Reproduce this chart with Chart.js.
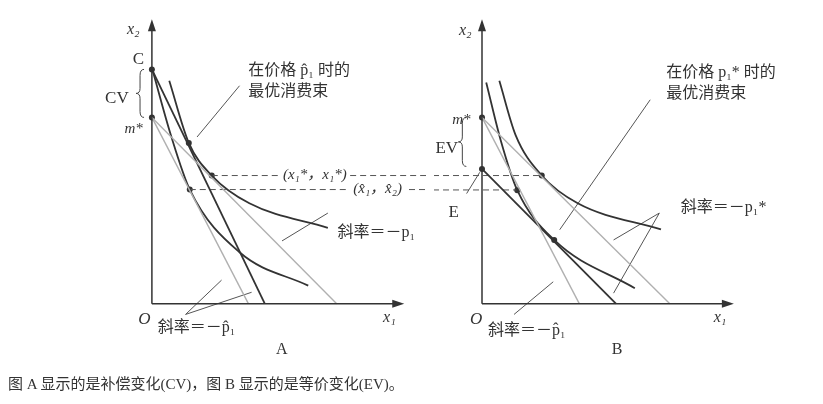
<!DOCTYPE html>
<html>
<head>
<meta charset="utf-8">
<script src="https://cdn.jsdelivr.net/npm/chart.js@4"></script>
<style>
  body { margin: 0; background: #fff; width: 823px; height: 404px; position: relative; overflow: hidden; }
  canvas { position: absolute; top: 0; }
  #caption { position: absolute; left: 8px; top: 372px; font: 15px 'Liberation Serif', 'Noto Sans CJK SC'; color: #333; }
</style>
</head>
<body>
<canvas id="chartA" width="430" height="404" style="left:0"></canvas>
<canvas id="chartB" width="393" height="404" style="left:430px"></canvas>
<div id="caption">图 A 显示的是补偿变化(CV)，图 B 显示的是等价变化(EV)。</div>
<script>
// ---------------- Panel A data (units: x1, x2) ----------------
const aBudgetComp = [[0, 23.9], [11.5, 0]];        // through C, slope -p̂1
const aBudgetNew = [[0, 19.0], [9.83, 0]];         // through m*, slope -p̂1
const aBudgetOld = [[0, 19.0], [18.83, 0]];        // through m*, slope -p1
const aCurveHigh = [[1.77, 22.74], [3.76, 16.4], [6.1, 13.07], [9.93, 10.24], [17.93, 7.74]];
const aCurveLow = [[0.1, 23.7], [1.93, 17.2], [3.86, 11.64], [8.93, 5.24], [15.93, 1.84]];
const aDots = [[0, 23.9], [0, 19.0], [3.76, 16.4], [6.1, 13.07], [3.86, 11.64]];
const aPointers = [
  [[4.6, 17.0], [8.93, 22.23]],
  [[13.26, 6.4], [17.93, 9.24]],
  [[3.43, -1.1], [7.1, 2.4]],
  [[3.43, -1.1], [10.16, 1.16]]
];
const aDashes = [
  [[6.1, 13.07], [13.1, 13.07]], [[20.2, 13.07], [28, 13.07]],
  [[3.86, 11.64], [19.9, 11.64]], [[26.2, 11.64], [28, 11.64]]
];

// ---------------- Panel B data ----------------
const bBudgetNew = [[0, 19.0], [9.93, 0]];         // slope -p̂1
const bBudgetOld = [[0, 19.0], [19.17, 0]];        // slope -p1*
const bBudgetEquiv = [[0, 13.74], [13.67, 0]];     // through E
const bCurveHigh = [[1.77, 22.74], [3.43, 17.2], [6.1, 13.07], [9.77, 10.24], [18.27, 7.57]];
const bCurveLow = [[0.43, 22.57], [1.93, 16.6], [3.6, 11.57], [7.37, 6.5], [15.6, 1.57]];
const bDots = [[0, 19.0], [0, 13.74], [6.1, 13.07], [3.6, 11.57], [7.37, 6.5]];
const bPointers = [
  [[7.93, 7.54], [17.17, 20.8]],
  [[13.43, 6.5], [18.1, 9.24]],
  [[13.43, 1.07], [18.1, 9.24]],
  [[3.27, -1.1], [7.27, 2.23]],
  [[-1.57, 11.23], [-0.23, 13.4]]
];
const bDashes = [
  [[-5, 13.07], [6.1, 13.07]],
  [[-5, 11.6], [3.6, 11.6]]
];

const axisEnd = [25.1, 28.4];

// labels: [text, x, y, align, font]
const SERIF = "'Liberation Serif', 'Noto Sans CJK SC'";
const aLabels = [
  ["C", -1.37, 24.9, "center", "17px " + SERIF],
  ["CV", -3.57, 20.9, "center", "17px " + SERIF],
  ["m*", -1.87, 17.8, "center", "italic 15px " + SERIF],
  ["O", -0.77, -1.6, "center", "italic 17px " + SERIF],
  ["x₁", 24.2, -1.4, "center", "italic 16px " + SERIF],
  ["x₂", -1.9, 27.9, "center", "italic 16px " + SERIF],
  ["在价格 p̂₁ 时的", 9.83, 23.77, "left", "16px " + SERIF],
  ["最优消费束", 9.83, 21.57, "left", "16px " + SERIF],
  ["(x₁*，x₁*)", 16.6, 13.07, "center", "italic 15px " + SERIF],
  ["(x̂₁，x̂₂)", 23.0, 11.64, "center", "italic 15px " + SERIF],
  ["斜率＝－p₁", 18.9, 7.27, "left", "16px " + SERIF],
  ["斜率＝－p̂₁", 0.6, -2.45, "left", "16px " + SERIF],
  ["A", 13.23, -4.73, "center", "16px " + SERIF]
];
const bLabels = [
  ["m*", -2.1, 18.77, "center", "italic 15px " + SERIF],
  ["EV", -3.6, 15.87, "center", "17px " + SERIF],
  ["E", -2.9, 9.27, "center", "17px " + SERIF],
  ["O", -0.6, -1.63, "center", "italic 17px " + SERIF],
  ["x₁", 24.3, -1.43, "center", "italic 16px " + SERIF],
  ["x₂", -1.7, 27.87, "center", "italic 16px " + SERIF],
  ["在价格 p₁* 时的", 18.8, 23.57, "left", "16px " + SERIF],
  ["最优消费束", 18.8, 21.37, "left", "16px " + SERIF],
  ["斜率＝－p₁*", 20.3, 9.77, "left", "16px " + SERIF],
  ["斜率＝－p̂₁", 0.6, -2.73, "left", "16px " + SERIF],
  ["B", 13.8, -4.73, "center", "16px " + SERIF]
];
// braces: [x, yTop, yBottom]
const aBraces = [[-0.8, 23.9, 19.0]];
const bBraces = [[-1.6, 19.0, 14.0]];

const DARK = "#333", LIGHT = "#b0b0b0", THIN = "#555";
const pts = arr => arr.map(([x, y]) => ({ x, y }));
const line = (arr, color, width, dash) => ({
  data: pts(arr), showLine: true, borderColor: color, borderWidth: width,
  borderDash: dash || [], pointRadius: 0, fill: false
});
const curve = arr => ({ ...line(arr, DARK, 1.8), cubicInterpolationMode: "monotone" });

const annotate = (labels, braces) => ({
  id: "annotate",
  afterDatasetsDraw(chart) {
    const { ctx, scales: { x, y } } = chart;
    ctx.save();
    // axis arrows
    ctx.fillStyle = DARK;
    const ox = x.getPixelForValue(0), oy = y.getPixelForValue(0);
    const ex = x.getPixelForValue(axisEnd[0]), ey = y.getPixelForValue(axisEnd[1]);
    ctx.beginPath(); ctx.moveTo(ex + 6, oy); ctx.lineTo(ex - 6, oy - 4); ctx.lineTo(ex - 6, oy + 4); ctx.fill();
    ctx.beginPath(); ctx.moveTo(ox, ey - 6); ctx.lineTo(ox - 4, ey + 6); ctx.lineTo(ox + 4, ey + 6); ctx.fill();
    // braces
    ctx.strokeStyle = "#444"; ctx.lineWidth = 1;
    braces.forEach(([bx, t, b]) => {
      const px = x.getPixelForValue(bx), pt = y.getPixelForValue(t), pb = y.getPixelForValue(b);
      const pm = (pt + pb) / 2;
      ctx.beginPath();
      ctx.moveTo(px, pt);
      ctx.quadraticCurveTo(px - 4, pt, px - 4, pt + 6);
      ctx.lineTo(px - 4, pm - 5);
      ctx.quadraticCurveTo(px - 4, pm, px - 8, pm);
      ctx.quadraticCurveTo(px - 4, pm, px - 4, pm + 5);
      ctx.lineTo(px - 4, pb - 6);
      ctx.quadraticCurveTo(px - 4, pb, px, pb);
      ctx.stroke();
    });
    // text
    ctx.fillStyle = "#333"; ctx.textBaseline = "middle";
    labels.forEach(([t, lx, ly, align, font]) => {
      ctx.font = font; ctx.textAlign = align;
      ctx.fillText(t, x.getPixelForValue(lx), y.getPixelForValue(ly));
    });
    ctx.restore();
  }
});

function makeChart(id, xMin, xMax, sets, dots, labels, braces) {
  new Chart(document.getElementById(id), {
    type: "scatter",
    data: {
      datasets: [
        line([[0, 0], [axisEnd[0], 0]], DARK, 1.5),
        line([[0, 0], [0, axisEnd[1]]], DARK, 1.5),
        ...sets,
        { data: pts(dots), pointRadius: 3, pointBackgroundColor: DARK, pointBorderWidth: 0, showLine: false }
      ]
    },
    options: {
      responsive: false, animation: false,
      layout: { padding: 0 },
      plugins: { legend: { display: false }, tooltip: { enabled: false } },
      scales: {
        x: { type: "linear", min: xMin, max: xMax, display: false },
        y: { type: "linear", min: -9.83, max: 30.57, display: false }
      }
    },
    plugins: [annotate(labels, braces)]
  });
}

makeChart("chartA", -15.07, 27.93, [
  line(aBudgetNew, LIGHT, 1.4),
  line(aBudgetOld, LIGHT, 1.4),
  line(aBudgetComp, DARK, 1.8),
  curve(aCurveHigh),
  curve(aCurveLow),
  ...aPointers.map(p => line(p, THIN, 1)),
  ...aDashes.map(d => line(d, THIN, 1, [6, 4]))
], aDots, aLabels, aBraces);

makeChart("chartB", -4.9, 34.4, [
  line(bBudgetNew, LIGHT, 1.4),
  line(bBudgetOld, LIGHT, 1.4),
  line(bBudgetEquiv, DARK, 1.8),
  curve(bCurveHigh),
  curve(bCurveLow),
  ...bPointers.map(p => line(p, THIN, 1)),
  ...bDashes.map(d => line(d, THIN, 1, [6, 4]))
], bDots, bLabels, bBraces);
</script>
</body>
</html>
